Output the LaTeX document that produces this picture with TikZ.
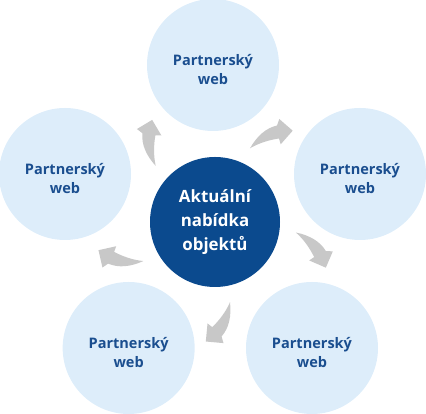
\documentclass[tikz,border=0pt]{standalone}
\usepackage{fontspec}
\setmainfont{Open Sans}
\definecolor{hubblue}{HTML}{0B4A8E}
\definecolor{webfill}{HTML}{DDEDFA}
\definecolor{webtext}{HTML}{1A4E8F}
\definecolor{arrowgray}{HTML}{C8C8C8}
\begin{document}
\begin{tikzpicture}[
    web/.style={circle, fill=webfill, minimum size=3.96cm, inner sep=0pt},
    weblabel/.style={align=center, text=webtext, inner sep=0pt,
        font=\bfseries\fontsize{12.4}{16.4}\selectfont},
    hub/.style={circle, fill=hubblue, minimum size=3.9cm, inner sep=0pt,
        align=center, text=white, font=\bfseries\fontsize{14.4}{20.5}\selectfont},
    bent/.pic={
        \fill[arrowgray, x=0.03cm, y=0.03cm]
            (35,73.7) .. controls (42,86) and (51,94) .. (62,96.5)
            -- (64.3,103) -- (77.7,91.3) -- (65.7,77.7) -- (64,83.5)
            .. controls (54,82) and (44,79) .. cycle;
    }
]
    \useasboundingbox (0,0) rectangle (12.78,12.42);

    % Mittelpunkt
    \node[hub] (hub) at (6.45,5.76) {Aktuální\\nabídka\\objektů};

    % Partnerske weby
    \node[web] (top) at (6.39,10.47) {};
    \node[web] (right) at (10.80,7.20) {};
    \node[web] (bright) at (9.36,1.98) {};
    \node[web] (bleft) at (3.86,1.98) {};
    \node[web] (left) at (1.95,7.20) {};

    % Texte etwas unter der Mitte
    \node[weblabel] (top-t) at ([yshift=-0.13cm]top) {Partnerský\\web};
    \node[weblabel] (right-t) at ([yshift=-0.13cm]right) {Partnerský\\web};
    \node[weblabel] (bright-t) at ([yshift=-0.13cm]bright) {Partnerský\\web};
    \node[weblabel] (bleft-t) at ([yshift=-0.13cm]bleft) {Partnerský\\web};
    \node[weblabel] (left-t) at ([yshift=-0.13cm]left) {Partnerský\\web};

    % Pfeile
    \pic at (hub) {bent};
    \pic[rotate=-72] at (hub) {bent};
    \pic[rotate=-144] at (hub) {bent};
    \pic[rotate=-216] at (hub) {bent};
    \pic[rotate=-288] at (hub) {bent};

\end{tikzpicture}
\end{document}
